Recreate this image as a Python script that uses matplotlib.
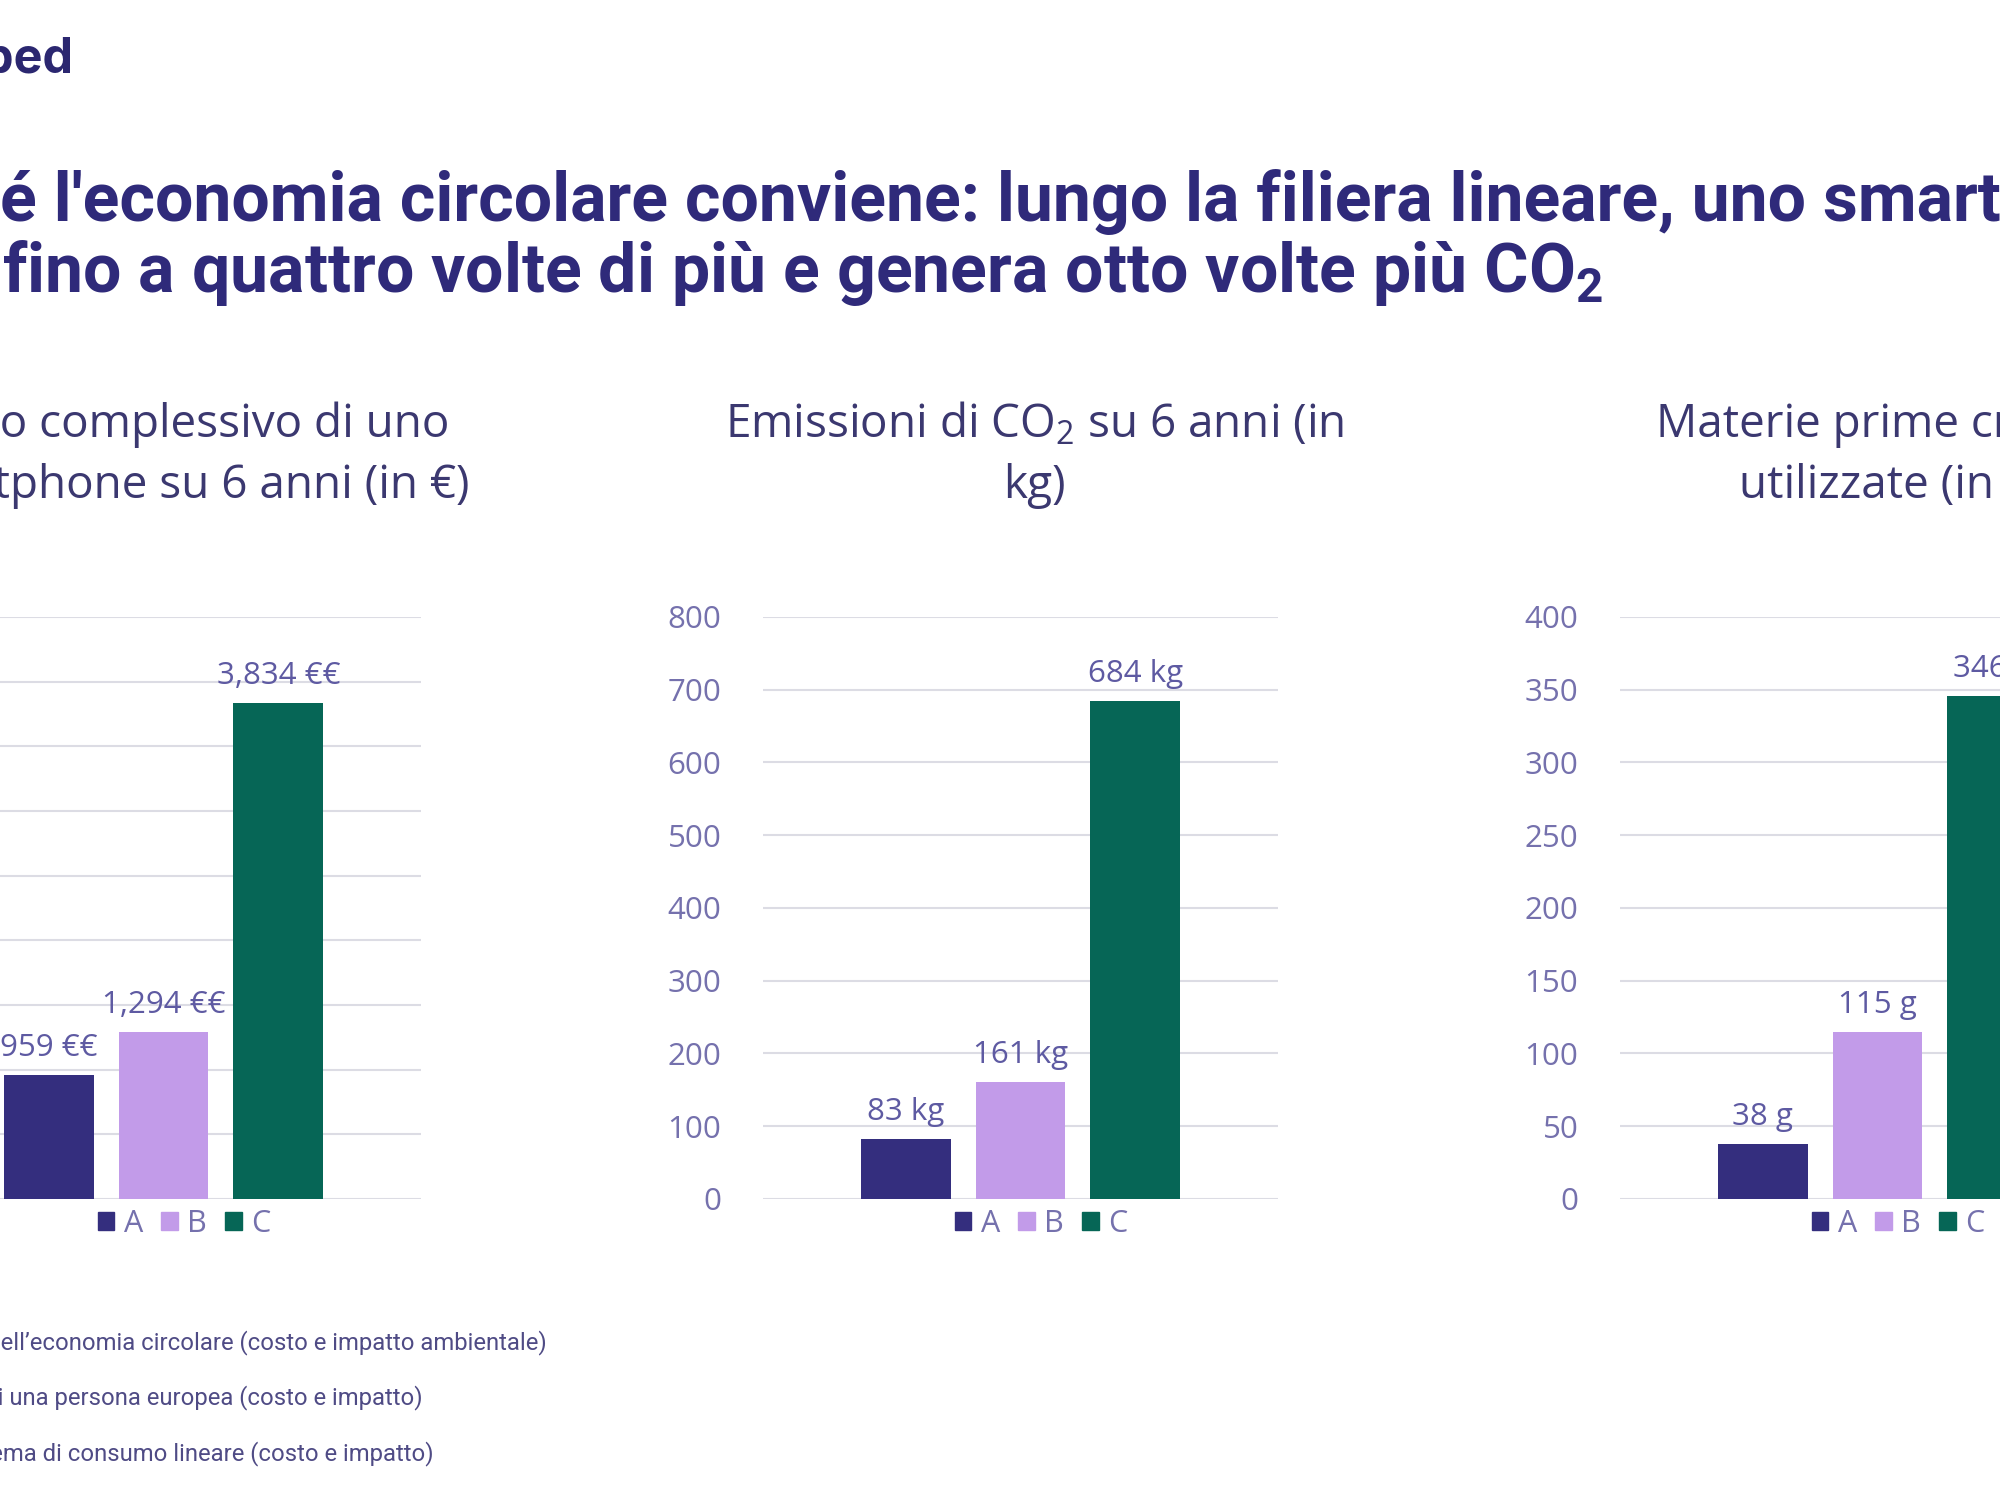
import matplotlib
matplotlib.use("Agg")
import matplotlib.pyplot as plt
from matplotlib.patches import Patch

# Dati
categorie = ["A", "B", "C"]
costo = [959, 1294, 3834]
emissioni = [83, 161, 684]
materie = [38, 115, 346]

etichette_costo = ["959 €€", "1,294 €€", "3,834 €€"]
etichette_emissioni = ["83 kg", "161 kg", "684 kg"]
etichette_materie = ["38 g", "115 g", "346 g"]

titoli = [
    "Costo complessivo di uno\nsmartphone su 6 anni (in €)",
    "Emissioni di CO$_2$ su 6 anni (in\nkg)",
    "Materie prime critiche\nutilizzate (in g)",
]
limiti = [(4500, 500), (800, 100), (400, 50)]

note = [
    "A: modello dell’economia circolare (costo e impatto ambientale)",
    "B: consumo medio di una persona europea (costo e impatto)",
    "C: sistema di consumo lineare (costo e impatto)",
]

colori = ["#342e7e", "#c29be9", "#066656"]
viola = "#2f2a7a"
grigio_viola = "#7571ad"
etichetta_col = "#5e5aa2"

plt.rcParams["mathtext.default"] = "regular"
font_chart = ["Open Sans", "DejaVu Sans"]
font_titolo = ["Liberation Sans Narrow", "Roboto", "DejaVu Sans"]

fig = plt.figure(figsize=(20, 15), dpi=100)

# logo tagliato in alto a sinistra
fig.text(0.0365, 0.96, "ped", ha="right", va="center", fontsize=35,
         fontweight="bold", color="#2b2770", family=["Inter", "DejaVu Sans"])

# titolo principale (tagliato ai bordi come nello screenshot)
fig.text(0.0, 0.8653, "Perch", ha="right", va="center", fontsize=49,
         fontweight="bold", color=viola, family=font_titolo)
fig.text(0.0, 0.8653, "é l'economia circolare conviene: lungo la filiera lineare, uno smartphone costa",
         ha="left", va="center", fontsize=49, fontweight="bold", color=viola, family=font_titolo)
fig.text(0.8015, 0.8183, "fino a quattro volte di più e genera otto volte più CO$_2$",
         ha="right", va="center", fontsize=49, fontweight="bold", color=viola, family=font_titolo)

dati = [costo, emissioni, materie]
etichette = [etichette_costo, etichette_emissioni, etichette_materie]
left0 = 763 / 2000
passo = 857 / 2000
larg = 515 / 2000

for i in range(3):
    left = left0 + (i - 1) * passo
    ax = fig.add_axes([left, 0.2007, larg, 0.388])
    x = [0, 1, 2]
    barre = ax.bar(x, dati[i], width=0.78, color=colori, zorder=3)
    ymax, step = limiti[i]
    ax.set_ylim(0, ymax)
    ax.set_xlim(-1.244, 3.244)
    ax.set_yticks(range(0, ymax + 1, step))
    ax.yaxis.grid(True, color="#dcdce4", linewidth=1.5, zorder=0)
    ax.set_xticks([])
    for s in ax.spines.values():
        s.set_visible(False)
    ax.tick_params(axis="y", length=0, pad=30, labelsize=22.5, labelcolor=grigio_viola)
    for lab in ax.get_yticklabels():
        lab.set_family(font_chart)
    for b, t in zip(barre, etichette[i]):
        ax.annotate(t, (b.get_x() + b.get_width() / 2, b.get_height()),
                    xytext=(0, 12), textcoords="offset pixels", ha="center", va="bottom",
                    fontsize=22.5, color=etichetta_col, family=font_chart)
    maniglie = [Patch(color=c, label=l) for c, l in zip(colori, categorie)]
    leg = ax.legend(handles=maniglie, ncol=3, loc="upper center",
                    bbox_to_anchor=(0.54, 0.03), frameon=False,
                    handlelength=0.55, handleheight=0.55, handletextpad=0.3,
                    columnspacing=0.6, prop={"family": font_chart, "size": 22})
    for t in leg.get_texts():
        t.set_color(grigio_viola)
    fig.text(left + larg / 2 + 14 / 2000, 0.6965, titoli[i], ha="center", va="center",
             fontsize=33, color="#3b3870", family=font_chart, linespacing=1.42)

# note in basso (tagliate a sinistra)
fine_note = [547 / 2000, 423 / 2000, 434 / 2000]
y_note = [0.105, 0.068, 0.031]
for testo, xf, yf in zip(note, fine_note, y_note):
    fig.text(xf, yf, testo, ha="right", va="center", fontsize=17.2,
             color="#4f4b85", family=font_titolo)

fig.savefig("out.png", dpi=100, facecolor="white")
